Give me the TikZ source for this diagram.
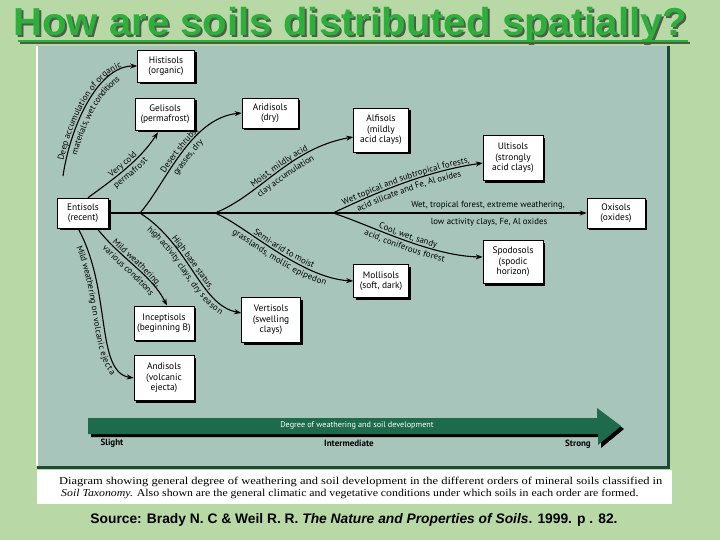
\documentclass[tikz,border=0pt]{standalone}
\usepackage{fontspec}
\setmainfont{Liberation Serif}
\newfontfamily\ttlfont{Liberation Sans}
\newfontfamily\dgfont{PT Sans}
\usetikzlibrary{arrows.meta,decorations.text,shadows,calc}
\definecolor{bgg}{HTML}{B8D9A6}
\definecolor{panelc}{HTML}{A8C5BC}
\definecolor{borderc}{HTML}{1C4A33}
\definecolor{titleg}{HTML}{2EAE3A}
\definecolor{tshadow}{HTML}{4A5E4A}
\definecolor{arrowg}{HTML}{1E6A4C}
\newcommand\lblf{\dgfont\fontsize{8.8}{9.5}\selectfont}
\newcommand\boxf{\dgfont\fontsize{9.4}{10.5}\selectfont}
\tikzset{
 soil/.style={draw=black, line width=0.6pt, fill=white, align=center, font=\boxf, inner sep=1pt,
   drop shadow={shadow xshift=2.2pt, shadow yshift=-2.2pt, fill=black, opacity=1}},
 conn/.style={line width=1.1pt, -{Stealth[length=7pt,width=5pt]}},
 lblup/.style={postaction={decorate, decoration={text along path, text={|\lblf|#1}, text align=center, raise=2.2pt}}},
 lbldn/.style={postaction={decorate, decoration={text along path, text={|\lblf|#1}, text align=center, raise=-9.6pt}}},
 deglbl/.style={font=\bfseries\dgfont\fontsize{9}{10}\selectfont},
 ttl/.style={anchor=base west, inner sep=0pt, font=\ttlfont\bfseries\fontsize{39}{42}\selectfont},
}
\begin{document}
\begin{tikzpicture}[x=1pt,y=-1pt]
\useasboundingbox (0,0) rectangle (720,540);
\fill[bgg] (0,0) rectangle (720,540);
% title
\node[ttl, text=tshadow] (titles) at (15,38) {\scalebox{1.03}[1]{How are soils distributed spatially?}};
\node[ttl, text=titleg] (title) at (13,36) {\scalebox{1.03}[1]{How are soils distributed spatially?}};
\draw[tshadow, line width=2.5pt] (20,43) -- (690,43);
\draw[titleg, line width=2.5pt] (18,41) -- (688,41);
% panel
\fill[panelc] (37,46) rectangle (668,466);
\draw[white, line width=1.5pt] (37,46) -- (37,466);
\draw[borderc, line width=3pt] (668,46) -- (668,467) -- (37,467);
\fill[white] (37,469.5) rectangle (672,504);
% boxes
\node[soil, minimum width=57pt, minimum height=32pt] (his) at (166,66) {Histisols\\(organic)};
\node[soil, minimum width=59pt, minimum height=32pt] (gel) at (165,114) {Gelisols\\(permafrost)};
\node[soil, minimum width=56pt, minimum height=30pt] (ari) at (270,113) {Aridisols\\(dry)};
\node[soil, minimum width=55pt, minimum height=44pt] (alf) at (381,130) {Alfisols\\(mildly\\acid clays)};
\node[soil, minimum width=60pt, minimum height=45pt] (ult) at (513,158) {Ultisols\\(strongly\\acid clays)};
\node[soil, minimum width=51pt, minimum height=30pt] (ent) at (83,213) {Entisols\\(recent)};
\node[soil, minimum width=58pt, minimum height=30pt] (oxi) at (616,213) {Oxisols\\(oxides)};
\node[soil, minimum width=60pt, minimum height=43pt] (spo) at (513,262) {Spodosols\\(spodic\\horizon)};
\node[soil, minimum width=55pt, minimum height=33pt] (mol) at (381,281) {Mollisols\\(soft, dark)};
\node[soil, minimum width=59pt, minimum height=45pt] (ver) at (271,320) {Vertisols\\(swelling\\clays)};
\node[soil, minimum width=60pt, minimum height=34pt] (inc) at (164,323) {Inceptisols\\(beginning B)};
\node[soil, minimum width=60pt, minimum height=45pt] (andi) at (164,378) {Andisols\\(volcanic\\ejecta)};
% branch points
\coordinate (h0) at (63,176);
\coordinate (b1) at (140,213);
\coordinate (b2) at (215,213);
\coordinate (b3) at (333,213);
% main line
\draw[conn] (ent.east) -- (oxi.west);
\node[font=\lblf] (m1) at (488,205) {Wet, tropical forest, extreme weathering,};
\node[font=\lblf] (m2) at (489,222) {low activity clays, Fe, Al oxides};
% connectors
\draw[conn, lblup={Deep accumulation of organic}, lbldn={materials, wet conditions}]
  (h0) .. controls (70,128) and (97,66) .. (his.west);
\draw[conn, lblup={Very cold}, lbldn={permafrost}]
  ($(ent.north)+(5,0)$) .. controls (115,178) and (140,160) .. ($(gel.south)+(-7,2)$);
\draw[conn, lblup={Desert shrubs,}, lbldn={grasses, dry}]
  (b1) .. controls (165,185) and (190,118) .. (ari.west);
\draw[conn, lblup={Moist, mildly acid}, lbldn={clay accumulation}]
  (b2) .. controls (260,195) and (290,148) .. ($(alf.west)+(0,7)$);
\draw[conn, lblup={Wet topical and subtropical forests,}, lbldn={acid silicate and Fe, Al oxides}]
  (b3) .. controls (365,198) and (420,172) .. ($(ult.west)+(0,5)$);
\draw[conn, lblup={Cool, wet, sandy}, lbldn={acid, coniferous forest}]
  (b3) .. controls (370,225) and (430,256) .. ($(spo.west)+(0,-5)$);
\draw[conn, lblup={Semi-arid to moist}, lbldn={grasslands, mollic epipedon}]
  (b2) .. controls (245,225) and (300,278) .. (mol.west);
\draw[conn, lblup={High base status,}, lbldn={high activity clays, dry season}]
  (b1) .. controls (190,245) and (200,305) .. ($(ver.west)+(0,-7)$);
\draw[conn, lblup={Mild weathering,}, lbldn={various conditions}]
  ($(ent.south)+(14,0)$) .. controls (120,258) and (152,275) .. ($(inc.north)+(3,0)$);
\draw[conn, lbldn={Mild weathering on volcanic ejecta}]
  ($(ent.south)+(-5,0)$) .. controls (112,290) and (95,372) .. (andi.west);
% weathering arrow
\fill[black] (91,421) -- (600,421) -- (600,411) -- (624,429) -- (601,448) -- (601,437) -- (91,437) -- cycle;
\fill[arrowg] (88,418) -- (597,418) -- (597,408) -- (621,426) -- (598,445) -- (598,434) -- (88,434) -- cycle;
\node[text=white, font=\dgfont\fontsize{8.2}{9}\selectfont] (deg) at (357,425) {Degree of weathering and soil development};
\node[deglbl] (sl) at (112,443) {Slight};
\node[deglbl] (im) at (349,443) {Intermediate};
\node[deglbl] (st) at (578,444) {Strong};
% caption
\node[anchor=west, inner sep=0pt, font=\fontsize{10.5}{12}\selectfont] (cap1) at (59,482) {\scalebox{1.19}[1]{Diagram showing general degree of weathering and soil development in the different orders of mineral soils classified in}};
\node[anchor=west, inner sep=0pt, font=\fontsize{10.5}{12}\selectfont] (cap2) at (61,494) {\scalebox{1.125}[1]{\textit{Soil Taxonomy.} Also shown are the general climatic and vegetative conditions under which soils in each order are formed.}};
\node[font=\ttlfont\bfseries\fontsize{13.8}{15}\selectfont] (src) at (354,520) {Source: Brady N. C \& Weil R. R. \textit{The Nature and Properties of Soils}. 1999. p . 82.};
\end{tikzpicture}
\end{document}
